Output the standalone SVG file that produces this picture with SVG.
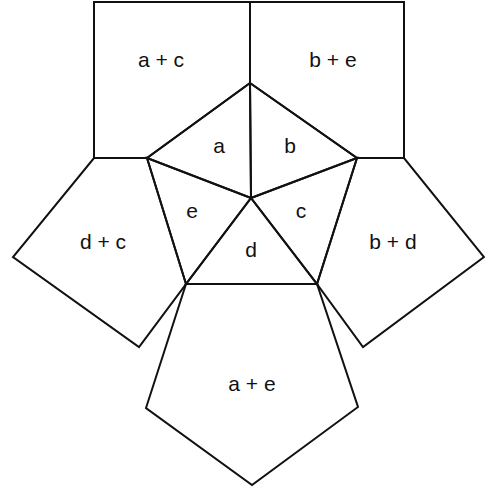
<svg xmlns="http://www.w3.org/2000/svg" width="485" height="490" viewBox="0 0 485 490">
<style>
.r{fill:none;stroke:#111;stroke-width:2;stroke-linejoin:miter}
.t{font-family:"Liberation Sans",Arial,sans-serif;font-size:21px;fill:#111;text-anchor:middle}
</style>
<rect width="485" height="490" fill="#fff"/>
<g id="ac"><polygon class="r" points="94,2 250,2 250,83 147,158 94,158"/><text class="t" x="161" y="67">a + c</text></g>
<g id="be"><polygon class="r" points="250,2 404,2 404,158 357,158 250,83"/><text class="t" x="333" y="67">b + e</text></g>
<g id="a"><polygon class="r" points="250,83 147,158 251,198"/><text class="t" x="219" y="153">a</text></g>
<g id="b"><polygon class="r" points="250,83 357,158 251,198"/><text class="t" x="290" y="153">b</text></g>
<g id="c"><polygon class="r" points="357,158 317,284 251,198"/><text class="t" x="301" y="218">c</text></g>
<g id="d"><polygon class="r" points="317,284 186,284 251,198"/><text class="t" x="251" y="257">d</text></g>
<g id="e"><polygon class="r" points="186,284 147,158 251,198"/><text class="t" x="192" y="218">e</text></g>
<g id="dc"><polygon class="r" points="147,158 94,158 13,257 139,347 186,284"/><text class="t" x="103" y="249">d + c</text></g>
<g id="bd"><polygon class="r" points="357,158 404,158 484,257 363,347 317,284"/><text class="t" x="393" y="249">b + d</text></g>
<g id="ae"><polygon class="r" points="186,284 317,284 358,407 252,485 146,408"/><text class="t" x="252" y="391">a + e</text></g>
<g id="connectors"/>
</svg>
